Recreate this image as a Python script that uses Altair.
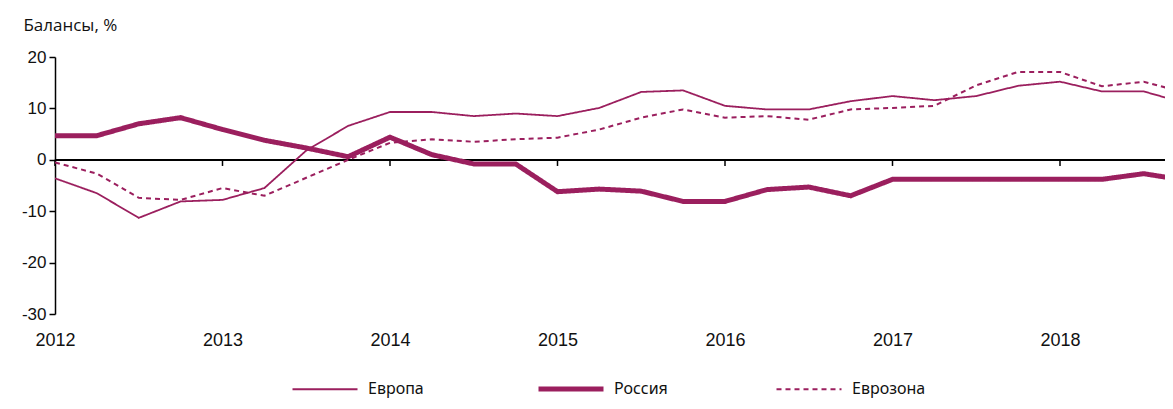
import altair as alt
import pandas as pd

years = [2012, 2013, 2014, 2015, 2016, 2017, 2018]
quarters = [0.0, 0.25, 0.5, 0.75]

europe = [-3.6, -6.5, -11.3, -8.1,
          -7.8, -5.5, 1.8, 6.6,
          9.3, 9.3, 8.5, 9.0,
          8.5, 10.1, 13.2, 13.5,
          10.5, 9.8, 9.8, 11.4,
          12.4, 11.6, 12.4, 14.4,
          15.2, 13.3, 13.3, 11.0]
russia = [4.7, 4.7, 7.0, 8.2,
          5.9, 3.8, 2.3, 0.6,
          4.4, 1.0, -0.8, -0.8,
          -6.2, -5.7, -6.1, -8.1,
          -8.1, -5.8, -5.3, -7.0,
          -3.8, -3.8, -3.8, -3.8,
          -3.8, -3.8, -2.7, -4.0]
eurozone = [-0.5, -2.7, -7.4, -7.8,
            -5.5, -7.0, -3.5, 0.0,
            3.3, 4.0, 3.5, 4.0,
            4.3, 5.9, 8.2, 9.8,
            8.2, 8.5, 7.8, 9.8,
            10.1, 10.5, 14.5, 17.1,
            17.1, 14.3, 15.2, 13.0]

series_names = ["Европа", "Россия", "Еврозона"]
y_ticks = [-30, -25, -20, -15, -10, -5, 0, 5, 10, 15, 20]

t = [y + q for y in years for q in quarters]
rows = []
for name, vals in zip(series_names, [europe, russia, eurozone]):
    for ti, v in zip(t, vals):
        rows.append({"t": ti, "value": v, "series": name})
df = pd.DataFrame(rows)
ticks_df = pd.DataFrame({"t": years})

COLOR = "#9b1f5e"
PLOT_W = 1110
PLOT_H = 257
x_max = 2012 + PLOT_W / 167.5

xscale = alt.Scale(domain=[2012, x_max], nice=False, zero=False)
yscale = alt.Scale(domain=[-30, 20], nice=False)

base_font = "Liberation Sans"

lines = alt.Chart(df).mark_line(clip=True).encode(
    x=alt.X("t:Q", scale=xscale,
            axis=alt.Axis(values=years, format="d", title=None, domain=False,
                          ticks=False, tickSize=0, grid=False, labelPadding=17,
                          labelFlush=False,
                          labelFontSize=18, labelFont="Liberation Sans Narrow, Liberation Sans",
                          labelColor="#111")),
    y=alt.Y("value:Q", scale=yscale,
            axis=alt.Axis(values=y_ticks, title=None, grid=False, domain=True,
                          domainColor="#000", domainWidth=1.5, ticks=True,
                          tickColor="#000", tickSize=6, tickWidth=1.5,
                          labelExpr="toString(datum.value)",
                          labelFontSize=17, labelFont=base_font, labelPadding=3,
                          labelColor="#111")),
    color=alt.Color("series:N", scale=alt.Scale(domain=series_names,
                                                range=[COLOR, COLOR, COLOR]),
                    legend=alt.Legend(title=None)),
    strokeDash=alt.StrokeDash("series:N", scale=alt.Scale(domain=series_names,
                                                          range=[[1, 0], [1, 0], [5, 4]]),
                              legend=alt.Legend(title=None)),
    strokeWidth=alt.StrokeWidth("series:N", scale=alt.Scale(type="ordinal",
                                                            domain=series_names,
                                                            range=[1.8, 5, 2]),
                                legend=alt.Legend(title=None)),
    order=alt.Order("t:Q"),
)

zero = alt.Chart(ticks_df).mark_rule(color="#000", strokeWidth=1.5).encode(
    y=alt.datum(0)
)

xticks = alt.Chart(ticks_df).mark_rule(color="#000", strokeWidth=1.5).encode(
    x=alt.X("t:Q", scale=xscale),
    y=alt.datum(0),
    y2=alt.datum(-1.2),
)

chart = alt.layer(zero, xticks, lines).properties(
    width=PLOT_W,
    height=PLOT_H,
    autosize=alt.AutoSizeParams(type="none"),
    padding={"left": 47, "top": 49, "right": 0, "bottom": 87},
    title=alt.Title("Балансы, %", anchor="start", dx=2, offset=13,
                    font="Open Sans", fontSize=17, fontWeight="normal",
                    color="#111"),
).configure_view(stroke=None).configure_legend(
    orient="none", legendX=235, legendY=297, direction="horizontal",
    columns=3, symbolType="stroke", symbolSize=4225, labelOffset=8,
    columnPadding=104, labelFont="Noto Sans", labelFontSize=16,
    labelColor="#111", symbolStrokeColor=COLOR,
)

chart.save("out.html", embed_options={"renderer": "svg", "actions": False})
